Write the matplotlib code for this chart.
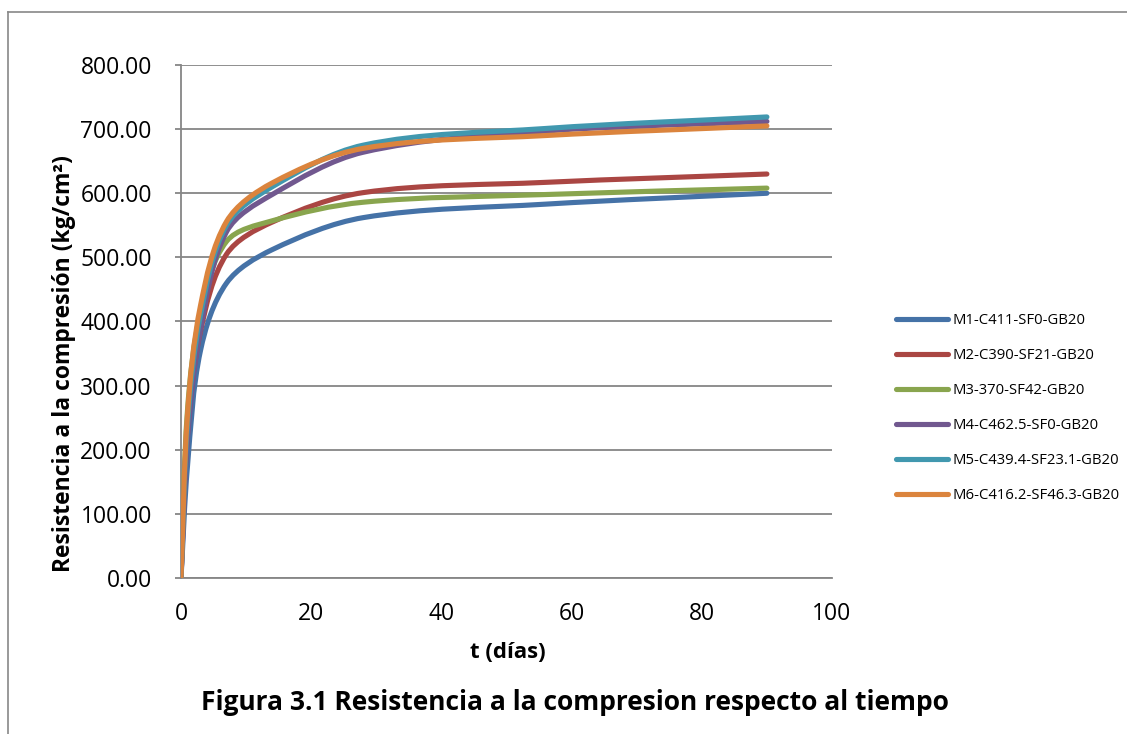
import matplotlib
matplotlib.use("Agg")
import matplotlib.pyplot as plt
from matplotlib.path import Path
from matplotlib.patches import PathPatch
from matplotlib.lines import Line2D
import numpy as np

plt.rcParams['font.family'] = ['Open Sans', 'DejaVu Sans']

# ---- data ----
t_days = [0, 1, 3, 7, 14, 28, 56, 90]
series_names = ["M1-C411-SF0-GB20", "M2-C390-SF21-GB20", "M3-370-SF42-GB20",
                "M4-C462.5-SF0-GB20", "M5-C439.4-SF23.1-GB20", "M6-C416.2-SF46.3-GB20"]
m1 = [0, 175, 355, 460, 512, 562, 583, 600]
m2 = [0, 225, 385, 505, 555, 601, 617, 630]
m3 = [0, 262, 415, 525, 557, 586, 598, 608]
m4 = [0, 218, 388, 540, 598, 664, 697, 712]
m5 = [0, 240, 410, 550, 610, 675, 701, 719]
m6 = [0, 255, 425, 556, 616, 670, 690, 705]
series_values = [m1, m2, m3, m4, m5, m6]
colors = ["#4572A7", "#AA4643", "#89A54E", "#71588F", "#4198AF", "#DB843D"]
y_ticks = [0, 100, 200, 300, 400, 500, 600, 700, 800]
x_ticks = [0, 20, 40, 60, 80, 100]


def smooth_path(ax, xs, ys, tension=1 / 3):
    """Smoothed line (Bezier through the points), built in display space."""
    P = ax.transData.transform(np.column_stack([xs, ys]).astype(float))
    n = len(P)
    c_out = np.zeros_like(P)
    c_in = np.zeros_like(P)
    for i in range(n):
        prev_p = P[i - 1] if i > 0 else P[i]
        next_p = P[i + 1] if i < n - 1 else P[i]
        d_prev = np.hypot(*(P[i] - prev_p))
        d_next = np.hypot(*(next_p - P[i]))
        direction = next_p - prev_p
        tot = d_prev + d_next
        c_out[i] = P[i] + tension * direction * (d_next / tot)
        c_in[i] = P[i] - tension * direction * (d_prev / tot)
    verts = [P[0]]
    codes = [Path.MOVETO]
    for i in range(n - 1):
        verts += [c_out[i], c_in[i + 1], P[i + 1]]
        codes += [Path.CURVE4] * 3
    verts = ax.transData.inverted().transform(np.array(verts))
    return Path(verts, codes)


W, H = 1127, 734
fig = plt.figure(figsize=(W / 100, H / 100), dpi=100)
ax = fig.add_axes([181 / W, 1 - 578 / H, (832 - 181) / W, (578 - 65) / H])
ax.set_xlim(0, 100)
ax.set_ylim(0, 800)

lw = 3.7
handles = []
for vals, col, name in zip(series_values, colors, series_names):
    patch = PathPatch(smooth_path(ax, t_days, vals), facecolor='none', edgecolor=col,
                      lw=lw, capstyle='round', joinstyle='round', zorder=3)
    ax.add_patch(patch)
    handles.append(Line2D([], [], color=col, lw=lw, solid_capstyle='round', label=name))

ax.set_xticks(x_ticks)
ax.set_yticks(y_ticks)
ax.set_yticklabels([f"{v:.2f}" for v in y_ticks])
ax.grid(axis='y', color='#868686', lw=1.3, zorder=0)
for s in ['top', 'right']:
    ax.spines[s].set_visible(False)
for s in ['left', 'bottom']:
    ax.spines[s].set_color('#868686')
    ax.spines[s].set_linewidth(1.3)
ax.tick_params(axis='y', length=4, color='#868686', width=1.3, pad=17, labelsize=16.5)
ax.tick_params(axis='x', length=0, pad=17, labelsize=16.5)

ax.set_ylabel("Resistencia a la compresión (kg/cm²)", fontsize=16.5,
              fontweight='bold', va='center')
ax.yaxis.set_label_coords((64 - 181) / 651, (578 - 364) / 513)
ax.set_xlabel("t (días)", fontsize=16, fontweight='bold', va='center')
ax.xaxis.set_label_coords((508 - 181) / 651, (578 - 652) / 513)

fig.text(575 / W, 1 - 703 / H, "Figura 3.1 Resistencia a la compresion respecto al tiempo",
         ha='center', va='center', fontsize=19, fontweight='bold')

leg = fig.legend(handles=handles, loc='center left',
                 bbox_to_anchor=(883 / W, 1 - 408 / H), frameon=False,
                 fontsize=10.7, handlelength=3.5, handletextpad=0.25,
                 labelspacing=1.35)

# outer chart frame (left and top edges visible)
fig.add_artist(Line2D([8 / W, 8 / W], [0, 1 - 12 / H], transform=fig.transFigure,
                      color='#888888', lw=1.2))
fig.add_artist(Line2D([8 / W, 1], [1 - 12 / H, 1 - 12 / H], transform=fig.transFigure,
                      color='#888888', lw=1.2))

fig.savefig("out.png", dpi=100)
